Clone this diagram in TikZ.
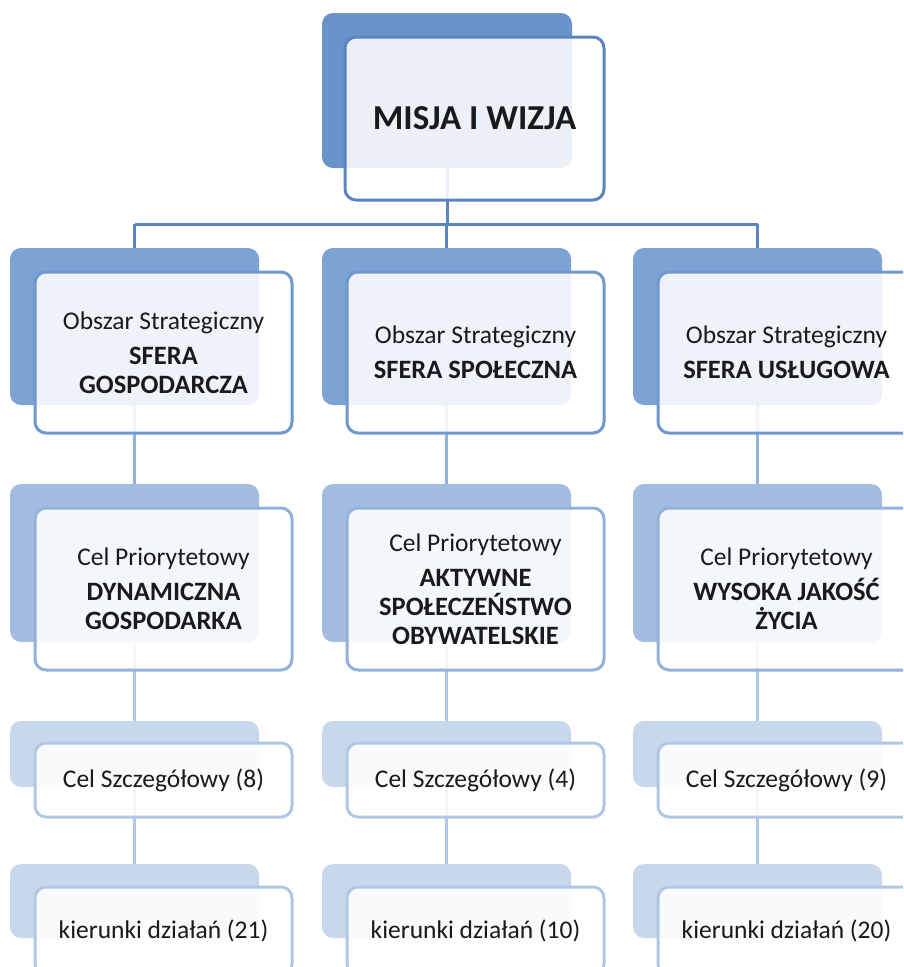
\documentclass[tikz,border=0pt]{standalone}
\usepackage{fontspec}
\setmainfont{Carlito}
\usetikzlibrary{positioning,backgrounds}

\definecolor{backA}{HTML}{6A93C9}
\definecolor{backB}{HTML}{7CA3D3}
\definecolor{backC}{HTML}{A3BDE0}
\definecolor{backD}{HTML}{C7D7EC}
\definecolor{lineA}{HTML}{5A86C0}
\definecolor{lineB}{HTML}{6F98CE}
\definecolor{lineC}{HTML}{93B1DA}
\definecolor{lineD}{HTML}{B2C7E4}
\definecolor{ink}{HTML}{1A1A1A}

\newcommand{\hd}[1]{{\fontsize{26.5}{29}\selectfont\bfseries #1}}

\begin{document}
\begin{tikzpicture}[x=1pt,y=-1pt,
    back/.style={rectangle,rounded corners=11pt,inner sep=0pt},
    front/.style={rectangle,rounded corners=11pt,inner sep=0pt,line width=3pt,
      fill=white,fill opacity=0.88,text opacity=1,align=center,text=ink,
      font=\fontsize{25.5}{29}\selectfont},
    conn/.style={line width=3pt}]
      \clip (0,0) rectangle (903,967);

      % misja i wizja
      \node[back,fill=backA,minimum width=250pt,minimum height=155pt] (mB) at (447,90.5){};
      \node[front,draw=lineA,minimum width=259pt,minimum height=163pt,font=\fontsize{35}{40}\selectfont\bfseries] (m) at (474.5,118.5){MISJA I WIZJA};

      % obszary strategiczne
      \node[back,fill=backB,minimum width=249pt,minimum height=157pt] (s1B) at (134.5,326.5){};
      \node[back,fill=backB,minimum width=249pt,minimum height=157pt] (s2B) at (446.5,326.5){};
      \node[back,fill=backB,minimum width=249pt,minimum height=157pt] (s3B) at (757.5,326.5){};
      \node[front,draw=lineB,minimum width=257pt,minimum height=161pt] (s1) at (163.5,352.5){Obszar Strategiczny\\[6pt]\hd{SFERA}\\\hd{GOSPODARCZA}};
      \node[front,draw=lineB,minimum width=257pt,minimum height=161pt] (s2) at (475.5,352.5){Obszar Strategiczny\\[6pt]\hd{SFERA SPOŁECZNA}};
      \node[front,draw=lineB,minimum width=257pt,minimum height=161pt] (s3) at (786.5,352.5){Obszar Strategiczny\\[6pt]\hd{SFERA USŁUGOWA}};

      % cele priorytetowe
      \node[back,fill=backC,minimum width=249pt,minimum height=158pt] (p1B) at (134.5,563){};
      \node[back,fill=backC,minimum width=249pt,minimum height=158pt] (p2B) at (446.5,563){};
      \node[back,fill=backC,minimum width=249pt,minimum height=158pt] (p3B) at (757.5,563){};
      \node[front,draw=lineC,minimum width=257pt,minimum height=162pt] (p1) at (163.5,589){Cel Priorytetowy\\[6pt]\hd{DYNAMICZNA}\\\hd{GOSPODARKA}};
      \node[front,draw=lineC,minimum width=257pt,minimum height=162pt] (p2) at (475.5,589){Cel Priorytetowy\\[6pt]\hd{AKTYWNE}\\\hd{SPOŁECZEŃSTWO}\\\hd{OBYWATELSKIE}};
      \node[front,draw=lineC,minimum width=257pt,minimum height=162pt] (p3) at (786.5,589){Cel Priorytetowy\\[6pt]\hd{WYSOKA JAKOŚĆ}\\\hd{ŻYCIA}};

      % cele szczegolowe
      \node[back,fill=backD,minimum width=249pt,minimum height=66pt] (c1B) at (134.5,754){};
      \node[back,fill=backD,minimum width=249pt,minimum height=66pt] (c2B) at (446.5,754){};
      \node[back,fill=backD,minimum width=249pt,minimum height=66pt] (c3B) at (757.5,754){};
      \node[front,draw=lineD,minimum width=257pt,minimum height=74pt] (c1) at (163.5,780){Cel Szczegółowy (8)};
      \node[front,draw=lineD,minimum width=257pt,minimum height=74pt] (c2) at (475.5,780){Cel Szczegółowy (4)};
      \node[front,draw=lineD,minimum width=257pt,minimum height=74pt] (c3) at (786.5,780){Cel Szczegółowy (9)};

      % kierunki dzialan
      \node[back,fill=backD,minimum width=249pt,minimum height=74pt] (k1B) at (134.5,901){};
      \node[back,fill=backD,minimum width=249pt,minimum height=74pt] (k2B) at (446.5,901){};
      \node[back,fill=backD,minimum width=249pt,minimum height=74pt] (k3B) at (757.5,901){};
      \node[front,draw=lineD,minimum width=257pt,minimum height=88pt] (k1) at (163.5,931){\raisebox{4pt}{kierunki działań (21)}};
      \node[front,draw=lineD,minimum width=257pt,minimum height=88pt] (k2) at (475.5,931){\raisebox{4pt}{kierunki działań (10)}};
      \node[front,draw=lineD,minimum width=257pt,minimum height=88pt] (k3) at (786.5,931){\raisebox{4pt}{kierunki działań (20)}};

      \coordinate (hub) at (447,224);

      \begin{scope}[on background layer]
        \draw[conn,lineA] (mB.center) -- (hub);
        \draw[conn,lineA] (s1B.center |- hub) -- (s3B.center |- hub);
        \draw[conn,lineA] (s1B.center |- hub) -- (s1B.north);
        \draw[conn,lineA] (s2B.center |- hub) -- (s2B.north);
        \draw[conn,lineA] (s3B.center |- hub) -- (s3B.north);

        \draw[conn,lineC] (s1B.center) -- (p1B.north);
        \draw[conn,lineC] (s2B.center) -- (p2B.north);
        \draw[conn,lineC] (s3B.center) -- (p3B.north);

        \draw[conn,lineD] (p1B.center) -- (c1B.north);
        \draw[conn,lineD] (p2B.center) -- (c2B.north);
        \draw[conn,lineD] (p3B.center) -- (c3B.north);

        \draw[conn,lineD] (c1B.center) -- (k1B.north);
        \draw[conn,lineD] (c2B.center) -- (k2B.north);
        \draw[conn,lineD] (c3B.center) -- (k3B.north);
      \end{scope}
    \end{tikzpicture}
\end{document}
